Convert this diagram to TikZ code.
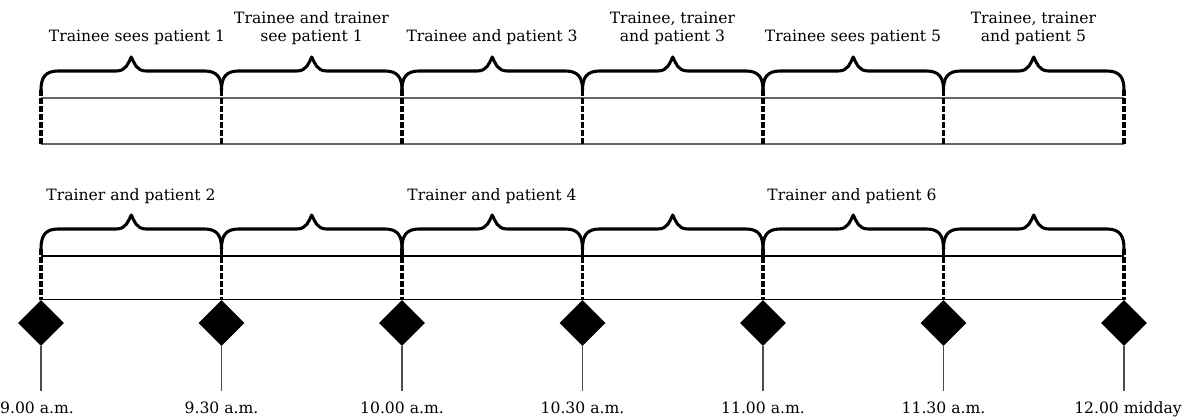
\documentclass[tikz,border=0pt]{standalone}
\usepackage{fontspec}
\setmainfont{DejaVu Serif}
\usetikzlibrary{shapes.geometric}
\begin{document}
\begin{tikzpicture}[x=0.75pt,y=-0.75pt,
  bracestyle/.style={line width=2.3pt,line cap=round,line join=round},
  dashstyle/.style={line width=2.3pt,dash pattern=on 4.2pt off 1.8pt},
  rowline/.style={line width=0.8pt},
  topline/.style={line width=0.9pt,draw=black!60},
  stem/.style={line width=0.8pt,draw=black!70},
  diam/.style={diamond,fill=black,inner sep=0pt,minimum size=34.5pt},
  lab/.style={font=\fontsize{11.7}{13.5}\selectfont,inner sep=0pt,anchor=base},
  lab2/.style={font=\fontsize{11.7}{13.5}\selectfont,inner sep=0pt,align=center,anchor=south,text depth=0pt},
  tlab/.style={font=\fontsize{11.7}{13.5}\selectfont,inner sep=0pt,anchor=base}]
\useasboundingbox (0,0) rectangle (1186,417);
% tick positions
\foreach \i/\x in {0/41,1/221.5,2/402,3/582.5,4/763,5/943.5,6/1124}{
  \coordinate (a\i) at (\x,90);
  \coordinate (b\i) at (\x,144);
  \coordinate (c\i) at (\x,249);
  \node[diam] (d\i) at (\x,323) {};
  \coordinate (e\i) at (\x,391);
}
% horizontal lines
\draw[topline] (a0|-0,98) coordinate (h1) -- (a6|-0,98) coordinate (h2);
\draw[topline] (b0) -- (b6);
\draw[rowline] (c0|-0,256) coordinate (h3) -- (c6|-0,256) coordinate (h4);
\draw[rowline] (d0.north) -- (d6.north);
% braces
\foreach \y/\f/\t in {90/71/57,249/229/215}{
  \foreach \a/\b in {41/221.5,221.5/402,402/582.5,582.5/763,763/943.5,943.5/1124}{
    \pgfmathsetmacro{\m}{(\a+\b)/2}
    \draw[bracestyle] (\a,\y) .. controls (\a,{\f+7}) and (\a+4,\f) .. (\a+17,\f)
      -- (\m-15,\f) .. controls (\m-5,\f) and (\m-3,{\t+6}) .. (\m,\t)
      .. controls (\m+3,{\t+6}) and (\m+5,\f) .. (\m+15,\f)
      -- (\b-17,\f) .. controls (\b-4,\f) and (\b,{\f+7}) .. (\b,\y);
  }
}
% dashed verticals and stems
\foreach \i in {0,...,6}{
  \draw[dashstyle] (a\i) -- (b\i);
  \draw[dashstyle] (c\i) -- (d\i.north);
  \draw[stem] (d\i.south) -- (e\i);
}
% top labels
\node[lab] (l1) at (137,42) {Trainee sees patient 1};
\node[lab2] (l2) at (311.5,42) {Trainee and trainer\\see patient 1};
\node[lab] (l3) at (492,42) {Trainee and patient 3};
\node[lab2] (l4) at (672.5,42) {Trainee, trainer\\and patient 3};
\node[lab] (l5) at (853,42) {Trainee sees patient 5};
\node[lab2] (l6) at (1033.5,42) {Trainee, trainer\\and patient 5};
% bottom labels
\node[lab] (m1) at (131,201) {Trainer and patient 2};
\node[lab] (m3) at (492,201) {Trainer and patient 4};
\node[lab] (m5) at (852,201) {Trainer and patient 6};
% time labels
\node[tlab] (t0) at (37,413) {9.00 a.m.};
\node[tlab] (t1) at (221.5,413) {9.30 a.m.};
\node[tlab] (t2) at (402,413) {10.00 a.m.};
\node[tlab] (t3) at (582.5,413) {10.30 a.m.};
\node[tlab] (t4) at (763,413) {11.00 a.m.};
\node[tlab] (t5) at (943.5,413) {11.30 a.m.};
\node[tlab] (t6) at (1128,413) {12.00 midday};
\end{tikzpicture}
\end{document}
